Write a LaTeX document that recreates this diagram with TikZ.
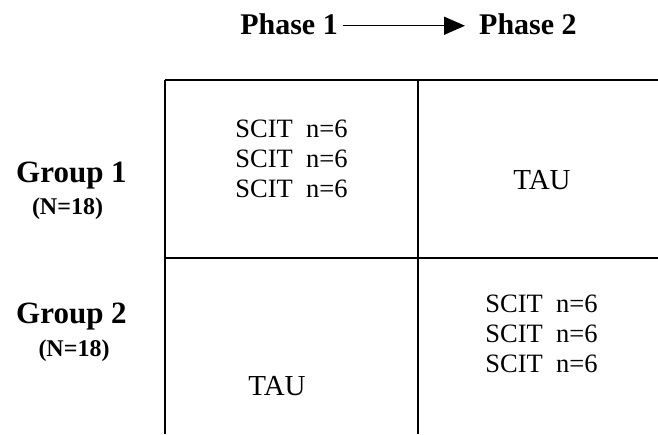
\documentclass[tikz,border=0pt]{standalone}
\usepackage{fontspec}
\setmainfont{Liberation Serif}
\usetikzlibrary{arrows.meta}
\begin{document}
\begin{tikzpicture}[x=1pt,y=-1pt,
  phasetxt/.style={font=\fontsize{30}{34}\selectfont\bfseries, inner sep=0pt},
  grouptxt/.style={font=\fontsize{31}{35}\selectfont\bfseries, inner sep=0pt, anchor=base},
  ntxt/.style={font=\fontsize{24}{28}\selectfont\bfseries, inner sep=0pt, anchor=base},
  celltxt/.style={font=\fontsize{26.5}{30}\selectfont, inner sep=0pt, anchor=base},
  tautxt/.style={font=\fontsize{29}{33}\selectfont, inner sep=0pt, anchor=base},
  gridline/.style={line width=2pt},
  phasearrow/.style={line width=1.5pt, -{Triangle[length=21pt,width=18pt]}}]
\useasboundingbox (0,0) rectangle (658,434);
% headings
\node[phasetxt, anchor=base east] (p1) at (338,34) {Phase 1};
\node[phasetxt, anchor=base west] (p2) at (479,34) {Phase 2};
\draw[phasearrow] ([xshift=5pt,yshift=-2pt]p1.east) -- ([xshift=-14pt,yshift=-2pt]p2.west);
% grid
\coordinate (tl) at (165,80);
\coordinate (tr) at (658,80);
\coordinate (ml) at (165,258);
\coordinate (mr) at (658,258);
\coordinate (tm) at (418,80);
\coordinate (bl) at (165,434);
\coordinate (bm) at (418,434);
\draw[gridline] (tl) -- (tr);
\draw[gridline] (ml) -- (mr);
\draw[gridline] (tl) -- (bl);
\draw[gridline] (tm) -- (bm);
% group labels
\node[grouptxt] (g1) at (71.5,182) {Group 1};
\node[ntxt] (n1) at (67.5,214) {(N=18)};
\node[grouptxt] (g2) at (71.5,323) {Group 2};
\node[ntxt] (n2) at (74,356) {(N=18)};
% cells
\node[celltxt] (a1) at (291.5,137) {SCIT\ \ n=6};
\node[celltxt] (a2) at (291.5,167) {SCIT\ \ n=6};
\node[celltxt] (a3) at (291.5,197) {SCIT\ \ n=6};
\node[tautxt] (t1) at (542,189) {TAU};
\node[tautxt] (t2) at (277,395) {TAU};
\node[celltxt] (b1) at (541.5,312) {SCIT\ \ n=6};
\node[celltxt] (b2) at (541.5,342) {SCIT\ \ n=6};
\node[celltxt] (b3) at (541.5,372) {SCIT\ \ n=6};
\end{tikzpicture}
\end{document}
